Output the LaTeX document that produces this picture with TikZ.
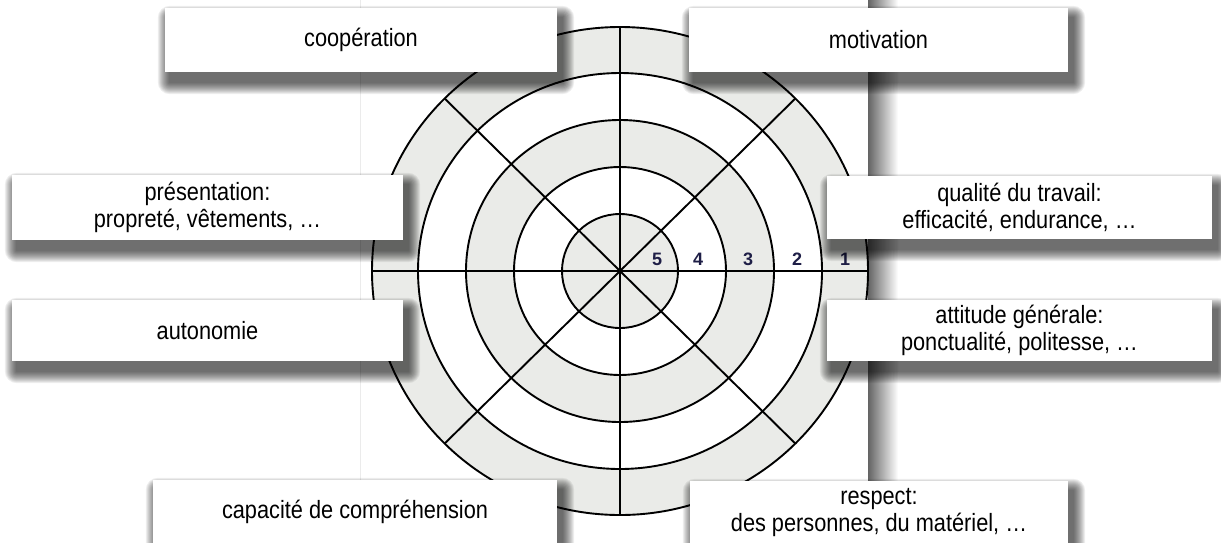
\documentclass[tikz,border=0pt]{standalone}
\usepackage{fontspec}
\setmainfont{Liberation Sans}
\newfontfamily\boxfont[FakeStretch=0.87]{Liberation Sans}
\pgfdeclarelayer{back}
\pgfdeclarelayer{shadowlayer}
\pgfsetlayers{back,shadowlayer,main}
\definecolor{ringgray}{RGB}{234,235,232}
\definecolor{numblue}{RGB}{30,30,70}
\begin{document}
\begin{tikzpicture}[x=1pt,y=-1pt,
  box/.style={draw=none, fill=white, inner sep=0pt, align=center,
    font=\boxfont\fontsize{25}{27}\selectfont},
  ringline/.style={line width=1.9pt, black},
  num/.style={font=\bfseries\fontsize{18}{18}\selectfont, text=numblue, inner sep=0pt},
  shadowpiece/.style={fill=black, opacity=0.065}]
\useasboundingbox (0,0) rectangle (1221,542);
\begin{pgfonlayer}{back}
% photo background with its right shadow
\shade[left color=black!65, right color=white] (866,0) rectangle (898,542);
\fill[white] (360,0) rectangle (868,542);
\draw[black!8] (360,0) -- (360,542);
% rings
\coordinate (c) at (620,271);
\fill[ringgray] (c) ellipse [x radius=248pt, y radius=244pt];
\fill[white] (c) ellipse [x radius=202pt, y radius=198pt];
\fill[ringgray] (c) ellipse [x radius=154pt, y radius=151pt];
\fill[white] (c) ellipse [x radius=106pt, y radius=104pt];
\fill[ringgray] (c) ellipse [x radius=58pt, y radius=57pt];
\foreach \rx/\ry in {248/244,202/198,154/151,106/104,58/57}
  \draw[ringline] (c) ellipse [x radius=\rx pt, y radius=\ry pt];
\foreach \ang in {0,45,...,315}
  \draw[ringline] (c) -- +(\ang:248pt and 244pt);
% scale numbers
\node[num] (n5) at (657,259) {5};
\node[num] (n4) at (698,259) {4};
\node[num] (n3) at (748,259) {3};
\node[num] (n2) at (797,259) {2};
\node[num] (n1) at (845,259) {1};
\end{pgfonlayer}
% boxes
\node[box, minimum width=392pt, minimum height=64pt] (coop) at (361,40) {coopération};
\node[box, minimum width=379pt, minimum height=64pt] (motiv) at (878.5,40) {motivation};
\node[box, minimum width=391pt, minimum height=65pt] (pres) at (207.5,207.5) {présentation:\\propreté, vêtements, …};
\node[box, minimum width=391pt, minimum height=61pt] (auto) at (207.5,330.5) {autonomie};
\node[box, minimum width=385pt, minimum height=63pt] (qual) at (1019.5,207.5) {qualité du travail:\\efficacité, endurance, …};
\node[box, minimum width=385pt, minimum height=61pt] (att) at (1019.5,330.5) {attitude générale:\\ponctualité, politesse, …};
\node[box, minimum width=404pt, minimum height=64pt] (cap) at (355,512) {capacité de compréhension};
\node[box, minimum width=378pt, minimum height=64pt] (resp) at (879,513) {respect:\\des personnes, du matériel, …};
% soft drop shadows
\begin{pgfonlayer}{shadowlayer}
\foreach \n in {coop,motiv,pres,auto,qual,att,cap,resp}
  \foreach \k in {1,...,12}
    \fill[shadowpiece, rounded corners=\k pt]
      ([xshift={(5-\k)*1pt}, yshift={(-10+\k)*1pt}]\n.north west)
      rectangle ([xshift={(5+\k)*1pt}, yshift={(-10-\k)*1pt}]\n.south east);
\end{pgfonlayer}
\end{tikzpicture}
\end{document}
